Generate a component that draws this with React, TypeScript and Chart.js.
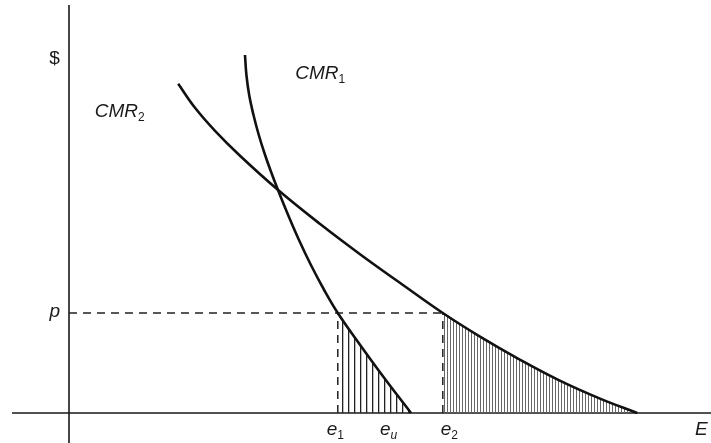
import { useEffect, useRef } from "react";
import { Chart, registerables } from "chart.js";

Chart.register(...registerables);

// Economic quantities (abstract units)
const P = 2.5; // price level p
const E1 = 4.48; // e1
const EU = 5.7; // e_u
const E2 = 6.23; // e2

// CMR1 curve (steep)
const cmr1X = [2.933, 2.957, 3.003, 3.075, 3.163, 3.268, 3.387, 3.49, 3.652, 3.833, 4.032, 4.253, 4.48, 4.793, 5.217, 5.7];
const cmr1Y = [8.95, 8.45, 7.95, 7.45, 6.95, 6.45, 5.95, 5.55, 4.95, 4.325, 3.7, 3.075, 2.5, 1.825, 0.95, 0];

// CMR2 curve (flatter)
const cmr2X = [1.82, 2.1, 2.43, 2.85, 3.48, 4.18, 4.85, 5.52, 6.23, 6.85, 7.52, 8.18, 8.85, 9.47];
const cmr2Y = [8.23, 7.63, 7.06, 6.43, 5.58, 4.73, 3.97, 3.25, 2.5, 1.91, 1.33, 0.81, 0.36, 0];

const toPts = (xs: number[], ys: number[]) => xs.map((x, i) => ({ x, y: ys[i] }));

const FONT = '"Liberation Sans", Arial, Helvetica, sans-serif';

function drawSub(
  ctx: CanvasRenderingContext2D,
  main: string,
  sub: string,
  left: number,
  base: number,
  italic: boolean,
  size = 19,
  subSize = 12,
  subDrop = 4
) {
  ctx.font = `${italic ? "italic " : ""}${size}px ${FONT}`;
  ctx.textAlign = "left";
  ctx.textBaseline = "alphabetic";
  ctx.fillText(main, left, base);
  const w = ctx.measureText(main).width;
  if (sub) {
    ctx.font = `${sub === "u" ? "italic " : ""}${subSize}px ${FONT}`;
    ctx.fillText(sub, left + w, base + subDrop);
  }
}

const overlay = {
  id: "overlay",
  beforeDatasetsDraw(chart: any) {
    const { ctx, scales } = chart;
    const xs = scales.x;
    const ys = scales.y;
    const x0 = xs.getPixelForValue(0);
    const y0 = ys.getPixelForValue(0);
    ctx.save();
    ctx.strokeStyle = "#1a1a1a";
    ctx.lineWidth = 1.6;
    ctx.beginPath();
    ctx.moveTo(x0, ys.getPixelForValue(10.2));
    ctx.lineTo(x0, chart.height);
    ctx.moveTo(xs.getPixelForValue(-0.95), y0);
    ctx.lineTo(chart.width, y0);
    ctx.stroke();
    ctx.restore();
  },
  afterDatasetsDraw(chart: any) {
    const { ctx, scales } = chart;
    const xs = scales.x;
    const ys = scales.y;
    const x0 = xs.getPixelForValue(0);
    const y0 = ys.getPixelForValue(0);
    const yp = ys.getPixelForValue(P);
    ctx.save();
    ctx.fillStyle = "#1a1a1a";
    // $ label
    ctx.font = `19px ${FONT}`;
    ctx.textAlign = "center";
    ctx.textBaseline = "alphabetic";
    ctx.fillText("$", x0 - 14.5, 64);
    // p label
    ctx.font = `italic 19px ${FONT}`;
    ctx.textAlign = "right";
    ctx.fillText("p", x0 - 9, yp + 4);
    // curve labels
    drawSub(ctx, "CMR", "1", xs.getPixelForValue(3.77), ys.getPixelForValue(8.35), true);
    drawSub(ctx, "CMR", "2", xs.getPixelForValue(0.43), ys.getPixelForValue(7.4), true);
    // axis labels
    const lb = y0 + 22;
    drawSub(ctx, "e", "1", xs.getPixelForValue(E1) - 11, lb, true);
    drawSub(ctx, "e", "u", xs.getPixelForValue(EU) - 31, lb, true);
    drawSub(ctx, "e", "2", xs.getPixelForValue(E2) - 2, lb, true);
    drawSub(ctx, "E", "", chart.width - 16, lb, true);
    ctx.restore();
  },
};

function stripes(ctx: CanvasRenderingContext2D, period: number, width: number, color: string) {
  const c = document.createElement("canvas");
  c.width = period;
  c.height = 4;
  const g = c.getContext("2d")!;
  g.fillStyle = color;
  g.fillRect(0, 0, width, 4);
  return ctx.createPattern(c, "repeat");
}

export default function App() {
  const ref = useRef<HTMLCanvasElement>(null);
  useEffect(() => {
    const canvas = ref.current!;
    const ctx = canvas.getContext("2d")!;
    const pat1 = stripes(ctx, 6, 1.3, "#222");
    const pat2 = stripes(ctx, 3, 1, "#666");
    const cmr1 = toPts(cmr1X, cmr1Y);
    const cmr2 = toPts(cmr2X, cmr2Y);
    const curve = {
      showLine: true,
      pointRadius: 0,
      borderColor: "#111",
      borderWidth: 2.6,
      tension: 0.4,
      fill: false,
    };
    const dash = { showLine: true, pointRadius: 0, borderColor: "#222", borderWidth: 1.5, borderDash: [8, 6], fill: false, tension: 0 };
    const hatch = {
      showLine: true,
      pointRadius: 0,
      borderWidth: 0,
      borderColor: "rgba(0,0,0,0)",
      tension: 0.4,
      fill: "origin" as const,
    };
    const chart = new Chart(canvas, {
      type: "scatter",
      data: {
        datasets: [
          { ...curve, data: cmr1 },
          { ...curve, data: cmr2 },
          { ...dash, data: [{ x: 0, y: P }, { x: E2, y: P }] },
          { ...dash, data: [{ x: E1, y: 0 }, { x: E1, y: P }] },
          { ...dash, data: [{ x: E2, y: 0 }, { x: E2, y: P }] },
          { ...hatch, backgroundColor: pat1 as any, data: cmr1.filter((p) => p.x >= E1) },
          { ...hatch, backgroundColor: pat2 as any, data: cmr2.filter((p) => p.x >= E2) },
        ],
      },
      options: {
        animation: false,
        responsive: false,
        maintainAspectRatio: false,
        layout: { padding: 0 },
        plugins: { legend: { display: false }, tooltip: { enabled: false } },
        scales: {
          x: { type: "linear", display: false, min: -69 / 60, max: (711 - 69) / 60 },
          y: { type: "linear", display: false, min: -30 / 40, max: 413 / 40 },
        },
      },
      plugins: [overlay],
    });
    return () => chart.destroy();
  }, []);
  return (
    <div style={{ position: "fixed", left: 0, top: 0, width: 711, height: 443, background: "#fff" }}>
      <canvas ref={ref} width={711} height={443} style={{ display: "block" }} />
    </div>
  );
}
